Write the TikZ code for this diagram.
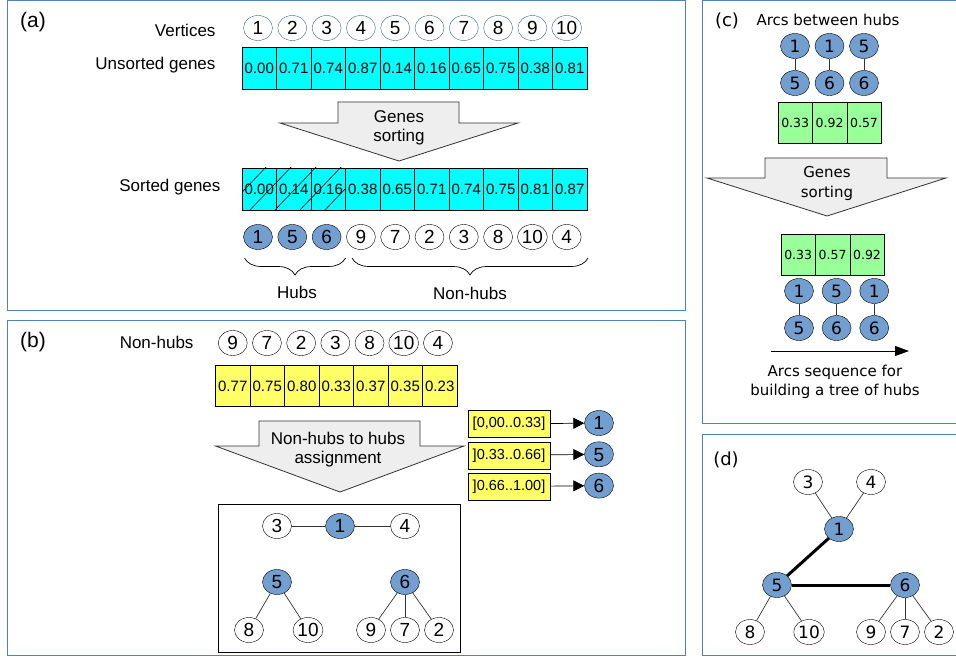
\documentclass[tikz,border=0pt]{standalone}
\usepackage{fontspec}
\setmainfont{Liberation Sans}
\newfontfamily\dejavu{DejaVu Sans}
\usetikzlibrary{shapes.geometric,arrows.meta,decorations.pathreplacing}

\definecolor{hubblue}{HTML}{729FCF}
\definecolor{framecol}{HTML}{4F81BD}
\definecolor{vertexblue}{HTML}{3465A4}
\definecolor{genecyan}{HTML}{00FFFF}
\definecolor{geneyellow}{HTML}{FFFF66}
\definecolor{genegreen}{HTML}{99FF99}
\definecolor{arrowgrey}{HTML}{EEEEEE}

\tikzset{
  panel/.style={draw=framecol, line width=1pt},
  plabel/.style={font=\fontsize{21}{21}\selectfont},
  rowlabel/.style={font=\fontsize{17}{17}\selectfont},
  vertex/.style={ellipse, draw, fill=white, minimum width=29pt, minimum height=25pt,
    inner sep=0pt, text height=13.4pt, text depth=0pt, font=\fontsize{19}{19}\selectfont},
  hub/.style={vertex, fill=hubblue},
  cvertex/.style={vertex, fill=hubblue, text height=12.3pt, font=\dejavu\fontsize{17}{17}\selectfont},
  cell/.style={draw, minimum width=34.5pt, minimum height=42pt, inner sep=0pt,
    font=\fontsize{15}{15}\selectfont},
  ccell/.style={draw, fill=genegreen, minimum width=34.4pt, minimum height=41pt,
    inner sep=0pt, font=\dejavu\fontsize{12.5}{12.5}\selectfont},
  rangebox/.style={draw, fill=geneyellow, minimum width=82.5pt, minimum height=27pt,
    inner sep=0pt, font=\fontsize{14.5}{14.5}\selectfont},
  blockarrow/.style={draw=black!80, fill=arrowgrey, line width=0.8pt},
  arrowtext/.style={align=center, font=\fontsize{17}{19}\selectfont},
  link/.style={draw=black!80, line width=0.7pt},
  treelink/.style={line width=3pt},
  bracket/.style={decorate, decoration={brace, mirror, amplitude=17pt}, line width=0.7pt},
}

\begin{document}
\begin{tikzpicture}[x=1pt, y=-1pt]
  \useasboundingbox (0,0) rectangle (956,658);

  % ---------- (a) ----------
  \draw[panel] (7,0.5) rectangle (685,310);
  \node[plabel] (la) at (33,22) {(a)};
  \node[rowlabel, anchor=east] (lvert) at (219,30) {Vertices};
  \node[rowlabel, anchor=east] (lunsort) at (219,65) {Unsorted genes};
  \node[rowlabel, anchor=east] (lsort) at (224,187) {Sorted genes};
  \foreach \n in {1,...,10}
    \node[vertex, draw=vertexblue] (v\n) at ({258+34.3*(\n-1)},28) {\n};
  \foreach \g [count=\i] in {0.00,0.71,0.74,0.87,0.14,0.16,0.65,0.75,0.38,0.81}
    \node[cell, fill=genecyan] (u\i) at ({259.25+34.5*(\i-1)},68) {\g};
  \draw[blockarrow] (338,102) -- (459,102) -- (459,123) -- (518,123) -- (399,161)
    -- (280,123) -- (338,123) -- cycle;
  \node[arrowtext] (sorta) at (399,128) {Genes\\sorting};
  \foreach \g [count=\i] in {0.00,0.14,0.16,0.38,0.65,0.71,0.74,0.75,0.81,0.87}
    \node[cell, fill=genecyan] (s\i) at ({259.25+34.5*(\i-1)},189) {\g};
  % hatching of the hub genes
  \begin{scope}
    \clip (242,168) rectangle (345.5,210);
    \foreach \k in {0,...,5}
      \draw[line width=0.6pt] ({225+25*\k},210) -- ++(44,-46);
  \end{scope}
  \foreach \n/\hubq [count=\i] in {1/hub,5/hub,6/hub,9/vertex,7/vertex,2/vertex,3/vertex,8/vertex,10/vertex,4/vertex}
    \node[\hubq] (w\i) at ({258+34.3*(\i-1)},237) {\n};
  \coordinate (bh1) at (244.5,258);
  \coordinate (bh2) at (345.5,258);
  \coordinate (bn1) at (352,258);
  \coordinate (bn2) at (588,258);
  \draw[bracket] (bh1) -- (bh2);
  \draw[bracket] (bn1) -- (bn2);
  \node[rowlabel] (lhubs) at (297,292) {Hubs};
  \node[rowlabel] (lnonhubs) at (470,293) {Non-hubs};

  % ---------- (b) ----------
  \draw[panel] (7,320) rectangle (685,655);
  \node[plabel] (lb) at (33,342) {(b)};
  \node[rowlabel, anchor=east] (lnon) at (197,342) {Non-hubs};
  \foreach \n [count=\i] in {9,7,2,3,8,10,4}
    \node[vertex] (n\i) at ({232.75+34.2*(\i-1)},343) {\n};
  \foreach \g [count=\i] in {0.77,0.75,0.80,0.33,0.37,0.35,0.23}
    \node[cell, fill=geneyellow, minimum height=41pt] (y\i) at ({232.75+34.5*(\i-1)},386) {\g};
  \draw[blockarrow] (259,421) -- (420,421) -- (420,446) -- (464,446) -- (340,492)
    -- (215.5,446) -- (259,446) -- cycle;
  \node[arrowtext] (assign) at (338,449.5) {Non-hubs to hubs\\assignment};
  \foreach \r/\h [count=\i] in {{[0,00..0.33]}/1,{]0.33..0.66]}/5,{]0.66..1.00]}/6} {
    \node[rangebox] (r\i) at (509,{424+31.3*(\i-1)}) {\r};
    \node[hub] (h\i) at (599,{423+31.3*(\i-1)}) {\h};
    \draw[-{Triangle[length=11pt,width=11pt]}, line width=0.7pt] (r\i) -- (h\i);
  }
  \draw[line width=0.8pt] (218.5,504) rectangle (460.5,652);
  \node[vertex] (t3) at (277,526) {3};
  \node[hub] (t1) at (340,526) {1};
  \node[vertex] (t4) at (405,526) {4};
  \node[hub] (t5) at (277,582) {5};
  \node[hub] (t6) at (405,582) {6};
  \node[vertex] (t8) at (249,630) {8};
  \node[vertex] (t10) at (308,630) {10};
  \node[vertex] (t9) at (371,630) {9};
  \node[vertex] (t7) at (405,630) {7};
  \node[vertex] (t2) at (439,630) {2};
  \foreach \a/\b in {t3/t1,t1/t4,t5/t8,t5/t10,t6/t9,t6/t7,t6/t2}
    \draw[link] (\a) -- (\b);

  % ---------- (c) ----------
  \draw[panel] (702,0.5) rectangle (960,423);
  \node[plabel, font=\dejavu\fontsize{18}{18}\selectfont] (lc) at (727,21) {(c)};
  \node[font=\dejavu\fontsize{15}{15}\selectfont] (larcs) at (828,20) {Arcs between hubs};
  \foreach \p/\q [count=\i] in {1/5,1/6,5/6} {
    \node[cvertex] (pa\i) at ({795+34.5*(\i-1)},46) {\p};
    \node[cvertex] (pb\i) at ({795+34.5*(\i-1)},83) {\q};
    \draw[link] (pa\i) -- (pb\i);
  }
  \foreach \g [count=\i] in {0.33,0.92,0.57}
    \node[ccell] (c\i) at ({795.2+34.4*(\i-1)},123) {\g};
  \draw[blockarrow] (765,158) -- (887,158) -- (887,178) -- (946,178) -- (827,216)
    -- (707,178) -- (765,178) -- cycle;
  \node[arrowtext, font=\dejavu\fontsize{15}{20}\selectfont] (sortc) at (827,183) {Genes\\sorting};
  \foreach \g [count=\i] in {0.33,0.57,0.92}
    \node[ccell] (d\i) at ({798.2+34.4*(\i-1)},255) {\g};
  \foreach \p/\q [count=\i] in {1/5,5/6,1/6} {
    \node[cvertex] (qa\i) at ({799+37.6*(\i-1)},291) {\p};
    \node[cvertex] (qb\i) at ({799+37.6*(\i-1)},328) {\q};
    \draw[link] (qa\i) -- (qb\i);
  }
  \coordinate (seq1) at (771,351);
  \coordinate (seq2) at (909,351);
  \draw[-{Triangle[length=14pt,width=10pt]}, line width=1pt] (seq1) -- (seq2);
  \node[align=center, font=\dejavu\fontsize{15}{19.5}\selectfont] (lseq) at (835,382)
    {Arcs sequence for\\building a tree of hubs};

  % ---------- (d) ----------
  \draw[panel] (702,434) rectangle (960,655);
  \node[plabel, font=\dejavu\fontsize{18}{18}\selectfont] (ld) at (726,460) {(d)};
  \tikzset{dvertex/.style={cvertex, fill=white}}
  \node[dvertex] (e3) at (808,482) {3};
  \node[dvertex] (e4) at (871,482) {4};
  \node[cvertex] (e1) at (839,529) {1};
  \node[cvertex] (e5) at (777,585) {5};
  \node[cvertex] (e6) at (905,585) {6};
  \node[dvertex] (e8) at (750,632) {8};
  \node[dvertex] (e10) at (809,632) {10};
  \node[dvertex] (e9) at (871,632) {9};
  \node[dvertex] (e7) at (905,632) {7};
  \node[dvertex] (e2) at (939,632) {2};
  \foreach \a/\b in {e1/e3,e1/e4,e5/e8,e5/e10,e6/e9,e6/e7,e6/e2}
    \draw[link] (\a) -- (\b);
  \draw[treelink] (e1) -- (e5);
  \draw[treelink] (e5) -- (e6);
\end{tikzpicture}
\end{document}
